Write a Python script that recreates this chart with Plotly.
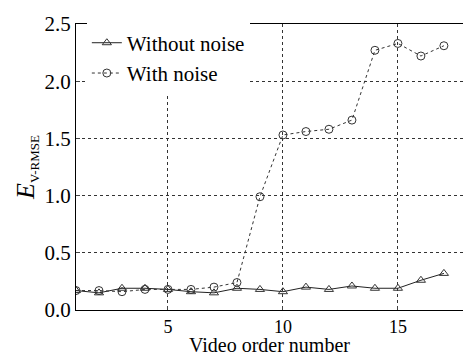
import plotly.graph_objects as go

x = list(range(1, 18))
without_noise = [0.17, 0.15, 0.19, 0.19, 0.18, 0.16, 0.15, 0.19, 0.18, 0.16, 0.20, 0.18, 0.21, 0.19, 0.19, 0.26, 0.32]
with_noise = [0.17, 0.17, 0.16, 0.18, 0.18, 0.18, 0.20, 0.24, 0.99, 1.53, 1.56, 1.58, 1.66, 2.27, 2.33, 2.22, 2.31]
y_ticks = [0, 0.5, 1.0, 1.5, 2.0, 2.5]
y_tick_text = ["0.0", "0.5", "1.0", "1.5", "2.0", "2.5"]
x_ticks = [5, 10, 15]

font = "'Liberation Serif', 'Times New Roman', serif"
fig = go.Figure()
fig.add_trace(go.Scatter(x=x, y=without_noise, mode="lines+markers", name="Without noise",
                         line=dict(color="#222", width=1),
                         marker=dict(symbol="triangle-up-open", size=8, color="#333", line=dict(width=1))))
fig.add_trace(go.Scatter(x=x, y=with_noise, mode="lines+markers", name="With noise",
                         line=dict(color="#333", width=1, dash="dot"),
                         marker=dict(symbol="circle-open", size=8, color="#333", line=dict(width=1))))

fig.update_layout(
    width=463, height=358,
    margin=dict(l=76, r=0, t=24, b=48),
    plot_bgcolor="white", paper_bgcolor="white",
    font=dict(family=font, size=20, color="black"),
    showlegend=True,
    legend=dict(x=0.028, y=1.005, xanchor="left", yanchor="top", bgcolor="white",
                font=dict(family=font, size=21), tracegroupgap=0, itemwidth=30,
                borderwidth=0),
    xaxis=dict(range=[1, 17.83], tickvals=x_ticks, showgrid=True,
               gridcolor="#333", griddash="dot", gridwidth=1,
               showline=True, linecolor="black", linewidth=1, mirror=True,
               ticks="inside", ticklen=4, zeroline=False,
               tickfont=dict(family=font, size=18)),
    yaxis=dict(range=[0, 2.5], tickvals=y_ticks, ticktext=y_tick_text, showgrid=True,
               gridcolor="#333", griddash="dot", gridwidth=1,
               showline=True, linecolor="black", linewidth=1, mirror=True,
               ticks="inside", ticklen=4, zeroline=False,
               tickfont=dict(family=font, size=21),
               title=dict(text="<i>E</i><sub><span style='font-size:13px'>V-RMSE</span></sub>",
                          font=dict(family=font, size=26), standoff=2)),
    annotations=[dict(text="Video order number", xref="paper", yref="paper",
                      x=0.5, y=-0.168, xanchor="center", yanchor="bottom",
                      showarrow=False, font=dict(family=font, size=20))],
)
fig.write_html("out.html")
